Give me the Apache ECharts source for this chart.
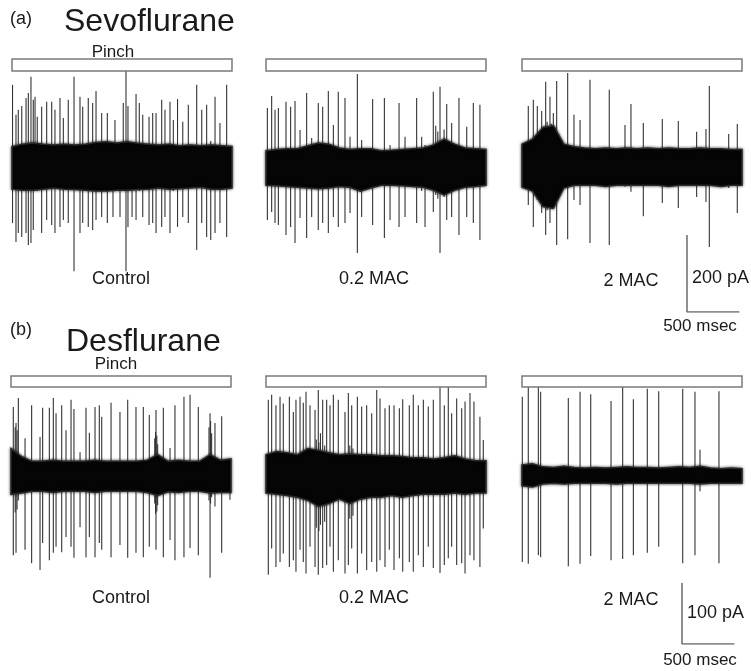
<!DOCTYPE html>
<html><head><meta charset="utf-8">
<script src="https://cdn.jsdelivr.net/npm/echarts@6/dist/echarts.min.js"></script>
<style>html,body{margin:0;padding:0;background:#fff}#c{width:751px;height:671px}</style>
</head><body><div id="c"></div>
<script>
// ---------- DATA (time in ms, current in pA) ----------
const sweepMs = 2100;
const pinchStart = 0, pinchEnd = 2100;
const scaleMs = 500;
const scalePA_a = 200, scalePA_b = 100;

// noise band envelope sample times (ms)
const bandT = [0,100,200,300,400,500,600,700,800,900,1000,1100,1200,1300,1400,1500,1600,1700,1800,1900,2000,2100];

// (a) Sevoflurane
const a1Up = [55,62,65,62,60,62,60,62,66,68,65,68,64,62,60,62,58,60,58,60,58,56];
const a1Lo = [-55,-58,-58,-55,-52,-55,-56,-58,-60,-60,-58,-58,-56,-55,-52,-55,-54,-52,-50,-55,-55,-52];
const a2Up = [45,48,50,50,58,65,62,52,48,50,50,45,46,48,50,52,60,75,62,52,50,48];
const a2Lo = [-45,-46,-48,-50,-52,-54,-52,-48,-50,-60,-52,-45,-45,-46,-48,-50,-58,-70,-58,-50,-48,-45];
const a3Up = [62,75,105,110,62,55,52,50,52,50,52,50,52,50,52,50,50,52,50,50,48,48];
const a3Lo = [-50,-60,-100,-105,-52,-45,-45,-45,-48,-45,-45,-45,-45,-45,-48,-45,-45,-45,-45,-48,-45,-45];

// spikes: [time ms, peak pA, trough pA]
const a1Spikes = [[5,216,-143],[38,138,-192],[60,151,-169],[93,161,-179],[134,182,-169],[156,195,-200],[181,237,-195],[203,177,-161],[220,185,-60],[241,133,-60],[283,159,-169],[331,172,-135],[379,172,-148],[410,151,-169],[458,182,-153],[490,130,-135],[537,177,-143],[592,237,-268],[649,185,-169],[675,159,-143],[728,182,-153],[770,169,-161],[802,200,-135],[856,143,-127],[910,143,-143],[964,60,-127],[983,125,-60],[1031,60,-127],[1062,169,-60],[1088,255,-268],[1107,161,-153],[1146,60,-127],[1184,192,-135],[1215,169,-60],[1248,138,-127],[1308,133,-148],[1343,143,-143],[1375,143,-169],[1429,177,-153],[1460,151,-127],[1508,172,-169],[1540,125,-60],[1580,179,-153],[1630,120,-127],[1683,164,-143],[1763,216,-213],[1811,151,-143],[1858,164,-179],[1897,70,-187],[1938,185,-169],[1985,117,-143],[2049,216,-179]];
const a2Spikes = [[13,156,-135],[54,187,-114],[86,151,-143],[118,156,-148],[191,172,-174],[235,159,-153],[277,174,-195],[325,99,-130],[388,195,-182],[436,78,-127],[499,169,-161],[541,159,-143],[595,200,-169],[643,112,-127],[690,198,-153],[754,182,-143],[802,81,-117],[872,244,-221],[913,73,-127],[1018,179,-148],[1130,182,-182],[1184,60,-135],[1270,169,-153],[1327,81,-127],[1438,182,-143],[1486,81,-60],[1518,60,-153],[1597,198,-114],[1620,110,-70],[1640,95,-80],[1661,211,-221],[1700,100,-75],[1725,166,-135],[1772,117,-127],[1842,182,-174],[1916,107,-127],[1979,169,-143],[2042,164,-187]];
const a3Spikes = [[60,161,-96],[108,177,-153],[146,161,-83],[188,148,-117],[210,110,-100],[226,224,-174],[240,120,-110],[267,185,-143],[280,115,-105],[299,143,-101],[320,105,-95],[331,226,-200],[436,247,-185],[496,138,-83],[554,125,-96],[649,229,-195],[833,203,-200],[983,112,-49],[1040,166,-62],[1158,117,-125],[1339,127,-91],[1492,122,-104],[1667,94,-75],[1756,101,-88],[1788,213,-205],[1973,88,-52],[2055,114,-117]];

// (b) Desflurane
const b1Up = [45,32,24,24,26,24,24,24,26,24,24,24,24,26,35,24,26,24,24,35,26,28];
const b1Lo = [-30,-28,-25,-25,-27,-25,-25,-25,-27,-25,-25,-25,-25,-27,-32,-26,-27,-25,-25,-28,-27,-27];
const b2Up = [35,40,38,35,45,42,38,35,36,35,35,33,33,32,30,30,28,30,33,28,25,25];
const b2Lo = [-28,-30,-32,-35,-40,-50,-45,-38,-45,-38,-35,-35,-32,-35,-32,-30,-30,-30,-28,-30,-28,-28];
const b3Up = [18,20,15,14,16,14,13,14,13,14,15,14,14,13,14,15,14,16,13,12,13,12];
const b3Lo = [-16,-18,-13,-12,-13,-12,-12,-12,-12,-13,-12,-12,-12,-12,-12,-12,-12,-13,-12,-12,-12,-12];

const b1Spikes = [[22,113,-130],[40,80,-60],[48,87,-126],[58,75,-55],[70,128,-40],[134,62,-121],[197,116,-143],[277,64,-154],[302,112,-110],[366,112,-138],[404,128,-126],[430,103,-116],[484,116,-125],[525,75,-100],[573,125,-116],[601,110,-134],[659,39,-84],[716,112,-133],[748,71,-100],[802,113,-133],[843,116,-110],[866,97,-121],[955,120,-133],[1040,105,-113],[1114,125,-134],[1193,113,-126],[1263,113,-133],[1320,100,-116],[1372,62,-45],[1380,72,-62],[1384,108,-121],[1392,66,-58],[1400,52,-48],[1454,112,-133],[1518,46,-105],[1565,116,-138],[1651,130,-133],[1709,133,-118],[1788,113,-130],[1890,80,-40],[1900,103,-167],[1905,90,-45],[1915,70,-35],[1947,87,-50],[2011,98,-126],[2090,26,-39]];
const b2Spikes = [[22,125,-162],[54,133,-119],[95,116,-149],[134,130,-141],[165,119,-127],[223,130,-149],[261,105,-138],[286,125,-157],[325,130,-121],[356,120,-141],[382,138,-160],[420,116,-116],[468,108,-149],[480,60,-85],[499,141,-162],[505,55,-90],[520,70,-80],[541,125,-151],[560,50,-75],[579,125,-146],[611,116,-116],[643,133,-157],[690,125,-138],[754,105,-160],[786,136,-146],[800,50,-70],[818,116,-119],[830,45,-65],[872,130,-160],[913,114,-127],[961,116,-154],[1009,103,-141],[1057,141,-157],[1088,127,-138],[1136,111,-149],[1177,116,-121],[1222,116,-154],[1273,111,-135],[1305,126,-157],[1368,116,-141],[1406,133,-157],[1454,116,-130],[1502,125,-149],[1549,114,-116],[1597,125,-151],[1661,146,-159],[1702,116,-146],[1740,149,-135],[1772,103,-116],[1820,127,-146],[1868,111,-143],[1900,122,-160],[1947,136,-130],[1985,122,-138],[2042,97,-149],[2074,59,-86]];
const b3Spikes = [[3,130,-141],[60,146,-144],[156,146,-130],[178,138,-133],[442,128,-148],[554,138,-144],[656,134,-131],[850,123,-138],[961,146,-136],[1063,126,-130],[1196,143,-126],[1305,139,-116],[1534,143,-143],[1651,138,-130],[1699,43,-25],[1880,139,-143]];

const panelLabels = ['Control','0.2 MAC','2 MAC'];

// ---------- LAYOUT ----------
const rows = {
  a: {center:168, pAperPx: scalePA_a/77, yMin:-320, yMax:300, pinchTop:59, pinchH:12},
  b: {center:476, pAperPx: scalePA_b/61, yMin:-200, yMax:200, pinchTop:376, pinchH:11}
};
const panelW = 220;
const panels = [
  {row:'a', left:12,  up:a1Up, lo:a1Lo, spikes:a1Spikes},
  {row:'a', left:266, up:a2Up, lo:a2Lo, spikes:a2Spikes},
  {row:'a', left:522, up:a3Up, lo:a3Lo, spikes:a3Spikes},
  {row:'b', left:11,  up:b1Up, lo:b1Lo, spikes:b1Spikes},
  {row:'b', left:266, up:b2Up, lo:b2Lo, spikes:b2Spikes},
  {row:'b', left:522, up:b3Up, lo:b3Lo, spikes:b3Spikes}
];
const scaleBars = [
  {row:'a', left:687, top:235, pA:scalePA_a},
  {row:'b', left:682, top:583, pA:scalePA_b}
];
const pxPerMs = panelW / sweepMs;

const grid = [], xAxis = [], yAxis = [], series = [];
panels.forEach((p, i) => {
  const r = rows[p.row];
  grid.push({left:p.left, width:panelW, top:r.center - r.yMax / r.pAperPx, height:(r.yMax - r.yMin) / r.pAperPx});
  xAxis.push({type:'value', gridIndex:i, min:0, max:sweepMs, show:false});
  yAxis.push({type:'value', gridIndex:i, min:r.yMin, max:r.yMax, show:false});
  series.push({
    type:'custom', xAxisIndex:i, yAxisIndex:i, clip:false, z:2, silent:true,
    data:p.spikes,
    renderItem:(params, api) => {
      const t = api.value(0);
      const p1 = api.coord([t, api.value(1)]);
      const p2 = api.coord([t, api.value(2)]);
      return {type:'line', shape:{x1:p1[0], y1:p1[1], x2:p2[0], y2:p2[1]},
              style:{stroke:'#333', lineWidth:1.1}};
    }
  });
  const bandData = bandT.map((t, k) => [t, p.up[k], p.lo[k]]);
  series.push({
    type:'custom', xAxisIndex:i, yAxisIndex:i, clip:false, z:3, silent:true,
    data:bandData,
    renderItem:(params, api) => {
      if (params.dataIndex !== 0) return null;
      const pts = [];
      bandData.forEach(d => pts.push(api.coord([d[0], d[1]])));
      for (let k = bandData.length - 1; k >= 0; k--) pts.push(api.coord([bandData[k][0], bandData[k][2]]));
      return {type:'polygon', shape:{points:pts},
              style:{fill:'#050505', stroke:'#2a2a2a', lineWidth:1.5, shadowBlur:3, shadowColor:'rgba(0,0,0,0.7)'}};
    }
  });
  series.push({
    type:'custom', xAxisIndex:i, yAxisIndex:i, clip:false, z:4, silent:true,
    data:[[pinchStart, pinchEnd]],
    renderItem:(params, api) => {
      const x1 = api.coord([api.value(0), 0])[0];
      const x2 = api.coord([api.value(1), 0])[0];
      return {type:'rect', shape:{x:x1, y:r.pinchTop, width:x2 - x1, height:r.pinchH},
              style:{fill:'#fff', stroke:'#7a7a7a', lineWidth:1.5}};
    }
  });
});
scaleBars.forEach((s, j) => {
  const gi = panels.length + j;
  const r = rows[s.row];
  grid.push({left:s.left, top:s.top, width:scaleMs * pxPerMs, height:s.pA / r.pAperPx});
  xAxis.push({type:'value', gridIndex:gi, min:0, max:scaleMs, show:false});
  yAxis.push({type:'value', gridIndex:gi, min:0, max:s.pA, show:false});
  series.push({type:'line', xAxisIndex:gi, yAxisIndex:gi, symbol:'none', silent:true,
    data:[[0, s.pA],[0, 0],[scaleMs, 0]], lineStyle:{color:'#6a6a6a', width:1.5}});
});

const F = 'Liberation Sans, Arial, sans-serif';
function txt(text, x, y, size, align) {
  return {type:'text', x:x, y:y, style:{text:text, fontFamily:F, fontSize:size, fill:'#1a1a1a',
    textAlign:align || 'center', textVerticalAlign:'middle'}};
}
const graphic = [
  txt('(a)', 21, 19, 18), txt('Sevoflurane', 64, 22, 32, 'left'), txt('Pinch', 113, 52, 17),
  txt(panelLabels[0], 121, 279, 18), txt(panelLabels[1], 374, 279, 18), txt(panelLabels[2], 631, 281, 18),
  txt(scalePA_a + ' pA', 692, 278, 18, 'left'), txt(scaleMs + ' msec', 700, 326, 17),
  txt('(b)', 21, 330, 18), txt('Desflurane', 66, 342, 32, 'left'), txt('Pinch', 116, 364, 17),
  txt(panelLabels[0], 121, 598, 18), txt(panelLabels[1], 374, 598, 18), txt(panelLabels[2], 631, 600, 18),
  txt(scalePA_b + ' pA', 687, 613, 18, 'left'), txt(scaleMs + ' msec', 700, 660, 17)
];

const chart = echarts.init(document.getElementById('c'));
chart.setOption({animation:false, backgroundColor:'#fff', grid, xAxis, yAxis, series, graphic});
</script></body></html>
